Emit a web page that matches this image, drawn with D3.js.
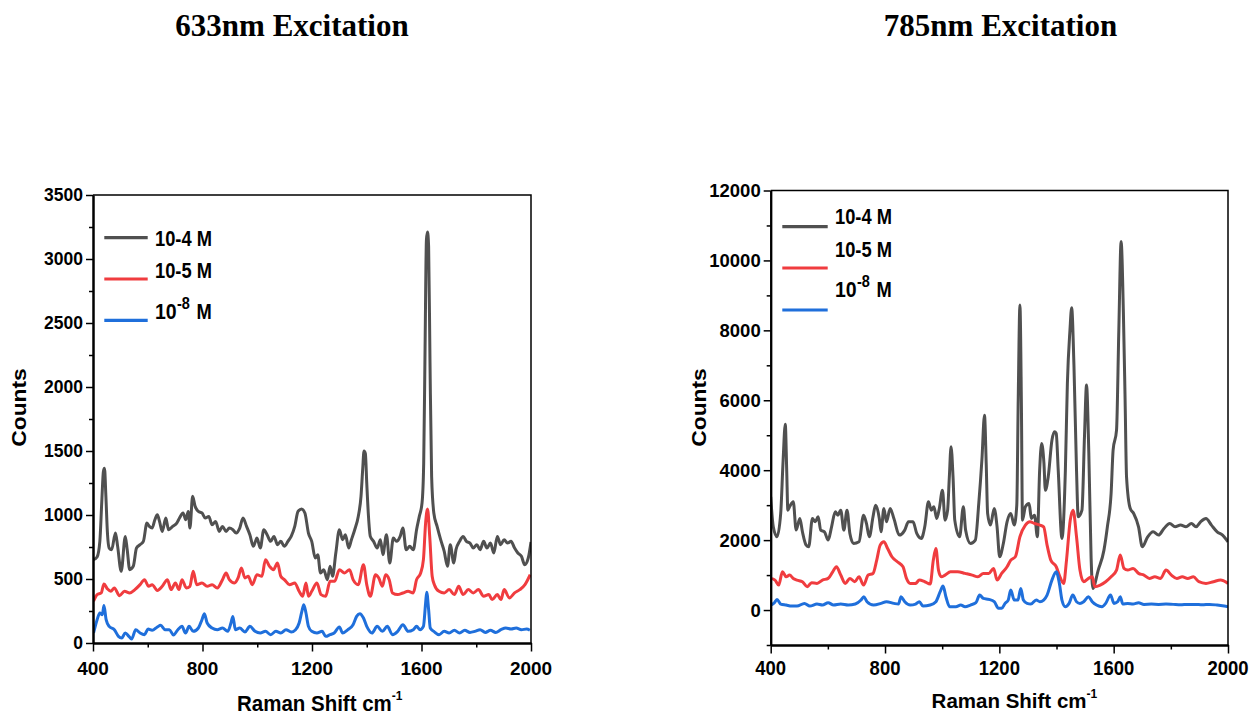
<!DOCTYPE html>
<html>
<head>
<meta charset="utf-8">
<script src="https://cdn.jsdelivr.net/npm/d3@7"></script>
<style>
  body { margin: 0; background: #fff; }
  svg { display: block; }
</style>
</head>
<body>
<svg id="fig" width="1253" height="717"></svg>
<script>
// ---- Raman spectra, 633 nm excitation: [shift (cm-1), counts] ----
const exc633_1e4 = [
  [402,651],[415,672],[425,794],[432,1100],[438,1340],[442,1365],[447,1150],[453,850],[459,742],[468,729],
  [482,859],[490,755],[503,560],[518,833],[525,729],[534,573],[547,599],[559,742],[572,768],[584,794],
  [597,937],[606,911],[616,898],[626,963],[635,1002],[643,950],[653,872],[666,976],[676,885],[691,911],
  [706,937],[716,976],[729,1016],[739,963],[748,1028],[754,898],[764,1146],[773,1068],[785,1028],[798,1016],
  [810,976],[823,989],[835,924],[848,950],[861,872],[873,911],[886,872],[898,898],[911,885],[923,859],
  [936,898],[948,976],[961,911],[973,846],[986,755],[999,820],[1011,742],[1024,885],[1036,846],[1049,794],
  [1061,833],[1074,768],[1086,794],[1099,755],[1112,794],[1124,833],[1137,911],[1149,1028],[1162,1047],[1174,1016],
  [1187,859],[1199,794],[1212,664],[1221,690],[1231,547],[1243,573],[1256,495],[1266,599],[1275,521],[1287,703],
  [1300,885],[1312,807],[1322,846],[1334,742],[1344,807],[1356,885],[1369,989],[1379,1146],[1385,1350],[1390,1500],
  [1395,1480],[1400,1250],[1406,1000],[1413,833],[1425,794],[1438,742],[1450,807],[1459,690],[1472,846],[1484,625],
  [1497,820],[1509,794],[1522,833],[1532,898],[1544,729],[1557,755],[1570,729],[1582,885],[1592,989],[1602,1094],
  [1608,1400],[1613,2300],[1618,3150],[1622,3210],[1626,3100],[1631,2200],[1637,1300],[1645,1016],[1657,911],[1670,807],
  [1683,716],[1695,599],[1705,768],[1718,625],[1726,729],[1739,794],[1752,833],[1764,794],[1777,781],[1789,742],
  [1802,768],[1814,729],[1827,794],[1839,742],[1852,781],[1864,703],[1877,833],[1889,768],[1902,807],[1914,781],
  [1927,794],[1940,742],[1952,703],[1965,677],[1977,612],[1990,664],[2000,790]
];
const exc633_1e5 = [
  [402,326],[415,378],[430,391],[440,461],[453,422],[465,404],[478,430],[497,370],[515,404],[534,391],
  [553,417],[572,456],[588,495],[603,443],[616,456],[635,411],[653,443],[672,495],[685,417],[701,469],
  [714,417],[725,495],[741,430],[754,443],[766,560],[779,456],[798,469],[817,443],[835,456],[854,430],
  [873,495],[886,547],[898,495],[917,469],[930,508],[942,586],[955,508],[967,521],[982,456],[999,534],
  [1017,521],[1030,651],[1045,599],[1059,573],[1074,625],[1086,521],[1099,495],[1118,456],[1137,469],[1153,404],
  [1166,365],[1178,469],[1187,365],[1199,404],[1218,469],[1233,378],[1250,365],[1266,482],[1283,482],[1300,573],
  [1319,547],[1337,573],[1350,495],[1369,456],[1388,612],[1400,456],[1413,365],[1432,534],[1444,508],[1457,443],
  [1469,534],[1482,495],[1494,391],[1513,378],[1532,391],[1551,404],[1570,391],[1582,495],[1597,547],[1607,651],
  [1615,937],[1622,1047],[1630,833],[1639,521],[1647,456],[1664,404],[1683,391],[1701,417],[1720,378],[1736,443],
  [1752,378],[1771,417],[1789,391],[1808,417],[1827,365],[1846,378],[1858,339],[1877,378],[1890,339],[1902,417],
  [1921,352],[1940,391],[1959,417],[1978,456],[1997,534]
];
const exc633_1e8 = [
  [402,78],[415,182],[425,234],[434,221],[440,292],[448,182],[459,130],[478,104],[493,52],[505,39],
  [518,78],[531,52],[541,31],[556,104],[572,78],[588,65],[601,109],[616,99],[635,125],[647,138],
  [664,104],[679,104],[694,62],[710,104],[725,130],[738,78],[751,130],[766,91],[785,117],[798,182],
  [807,229],[817,156],[835,117],[854,104],[873,117],[892,91],[904,156],[911,208],[920,104],[936,117],
  [955,86],[973,130],[992,91],[1011,78],[1030,91],[1049,65],[1068,91],[1086,78],[1105,104],[1124,86],
  [1140,104],[1153,156],[1163,247],[1170,299],[1178,234],[1187,130],[1199,91],[1218,78],[1237,91],[1250,52],
  [1266,65],[1281,78],[1300,125],[1312,78],[1331,104],[1350,143],[1363,208],[1375,229],[1388,195],[1400,130],
  [1419,78],[1438,130],[1457,91],[1475,130],[1494,65],[1513,91],[1532,143],[1551,91],[1570,104],[1582,130],
  [1595,104],[1607,130],[1615,312],[1619,396],[1626,260],[1632,117],[1645,91],[1664,65],[1683,91],[1701,78],
  [1720,99],[1739,78],[1758,99],[1777,83],[1795,91],[1814,104],[1833,83],[1852,99],[1871,83],[1890,104],
  [1908,117],[1927,109],[1946,117],[1965,104],[1984,109],[1996,99]
];

// ---- Raman spectra, 785 nm excitation: [shift (cm-1), counts] ----
const exc785_1e4 = [
  [400,3238],[409,2381],[422,2095],[435,2762],[443,4200],[451,5317],[456,4000],[460,2857],[466,2952],[479,3095],
  [489,2286],[502,2619],[511,2238],[524,1857],[533,1810],[546,2619],[556,2524],[566,2667],[575,2286],[588,2238],
  [601,2000],[613,2381],[626,2810],[635,2714],[645,2857],[656,2286],[667,2857],[677,2190],[690,1905],[709,1952],
  [725,2714],[735,2476],[745,2095],[758,2667],[767,3000],[780,2619],[786,2238],[796,2905],[805,2524],[818,2905],
  [831,2619],[850,2143],[869,2286],[882,2524],[898,2524],[911,2190],[927,2048],[939,2381],[952,3095],[962,2857],
  [971,2952],[981,2619],[990,2905],[1001,3429],[1010,2571],[1019,2857],[1025,3800],[1031,4668],[1038,3800],[1044,2571],
  [1061,2095],[1074,2952],[1082,2286],[1099,1905],[1116,2000],[1128,3048],[1139,4300],[1148,5575],[1154,4200],[1159,2762],
  [1169,2429],[1182,2905],[1192,2381],[1201,1524],[1214,1905],[1227,2524],[1240,2762],[1252,2429],[1261,3000],[1266,6000],
  [1272,8725],[1277,6000],[1281,2571],[1291,2952],[1304,3048],[1312,2619],[1323,2714],[1333,2095],[1341,4000],[1348,4763],
  [1356,4200],[1361,3429],[1371,3810],[1384,4859],[1393,5098],[1399,5050],[1406,4000],[1419,2048],[1431,4000],[1438,6482],
  [1447,8000],[1453,8649],[1461,7000],[1470,4000],[1476,2667],[1489,2857],[1498,5000],[1505,6434],[1513,4500],[1521,1500],
  [1527,619],[1546,1143],[1566,1714],[1578,2381],[1591,3333],[1598,4573],[1610,5145],[1618,8000],[1626,10539],[1634,8500],
  [1640,6000],[1645,3810],[1658,2905],[1670,2762],[1687,2381],[1700,1810],[1719,2095],[1738,2238],[1757,2143],[1776,2333],
  [1796,2476],[1815,2381],[1834,2429],[1853,2381],[1872,2476],[1888,2381],[1904,2524],[1923,2619],[1942,2429],[1962,2238],
  [1981,2143],[2000,1952]
];
const exc785_1e5 = [
  [400,905],[415,857],[428,714],[441,1095],[454,952],[466,1000],[479,905],[492,857],[511,810],[528,667],
  [543,781],[562,762],[581,857],[601,905],[617,1095],[630,1238],[645,1000],[661,762],[677,905],[694,810],
  [709,952],[725,714],[741,1000],[758,1048],[771,1429],[783,1857],[796,1952],[809,1762],[824,1524],[843,1381],
  [863,1238],[875,905],[888,762],[907,762],[920,857],[939,810],[958,743],[969,1429],[978,1762],[987,1143],
  [997,952],[1010,1000],[1029,1095],[1054,1095],[1080,1048],[1105,1000],[1125,952],[1144,1048],[1163,1048],[1180,1190],
  [1192,857],[1208,1048],[1227,1238],[1240,1429],[1256,1524],[1272,2095],[1291,2429],[1307,2524],[1323,2476],[1342,2429],
  [1355,2381],[1367,1857],[1380,1429],[1399,1238],[1412,952],[1425,762],[1435,1429],[1448,2571],[1458,2857],[1470,2095],
  [1482,1143],[1495,810],[1512,905],[1525,952],[1534,667],[1553,714],[1572,810],[1591,952],[1610,1143],[1623,1571],
  [1636,1190],[1649,1143],[1668,1190],[1687,1048],[1706,1000],[1725,905],[1744,952],[1764,905],[1783,1143],[1802,1000],
  [1821,905],[1840,952],[1859,905],[1879,952],[1898,810],[1923,762],[1949,810],[1974,857],[2000,762]
];
const exc785_1e8 = [
  [400,143],[413,210],[422,305],[435,171],[454,143],[473,114],[492,114],[518,190],[537,114],[562,171],
  [581,143],[601,210],[620,143],[645,171],[671,143],[696,171],[716,286],[726,381],[737,238],[760,143],
  [786,190],[805,238],[831,190],[847,171],[856,381],[869,238],[888,143],[907,171],[920,238],[933,114],
  [958,143],[978,238],[993,524],[1003,686],[1013,381],[1026,95],[1048,95],[1065,143],[1080,95],[1099,143],
  [1118,210],[1131,429],[1144,333],[1163,305],[1182,238],[1197,48],[1208,48],[1220,190],[1231,286],[1240,571],
  [1252,286],[1265,286],[1275,619],[1284,286],[1297,190],[1310,171],[1329,286],[1342,238],[1355,286],[1367,429],
  [1384,857],[1399,1095],[1410,762],[1419,286],[1431,95],[1444,190],[1457,429],[1470,238],[1482,190],[1495,238],
  [1512,381],[1525,238],[1540,143],[1559,95],[1572,190],[1589,429],[1601,190],[1614,238],[1623,381],[1632,171],
  [1649,190],[1668,171],[1687,210],[1706,162],[1732,171],[1757,162],[1783,171],[1808,162],[1834,152],[1859,162],
  [1885,162],[1910,152],[1936,162],[1962,143],[1987,114],[2000,95]
];

// ---- axis ticks and labels ----
const shiftTicks = [400, 800, 1200, 1600, 2000];
const shiftMinor = [600, 1000, 1400, 1800];
const counts633Ticks = [0, 500, 1000, 1500, 2000, 2500, 3000, 3500];
const counts633Minor = [250, 750, 1250, 1750, 2250, 2750, 3250];
const counts785Ticks = [0, 2000, 4000, 6000, 8000, 10000, 12000];
const counts785Minor = [-1000, 1000, 3000, 5000, 7000, 9000, 11000];
const panelTitles = ["633nm Excitation", "785nm Excitation"];
const legendParts = [["10-4 M"], ["10-5 M"], ["10", "-8", "M"]];
const seriesColors = ["#505050", "#f03c3f", "#1f6fdb"];

const svg = d3.select("#fig");
const SANS = "'Liberation Sans', Arial, sans-serif";
const SERIF = "'Liberation Serif', 'Times New Roman', serif";

const panels = [
  {
    id: "p633", series: [exc633_1e4, exc633_1e5, exc633_1e8],
    xRange: [93, 531], yRange: [643, 195], yDomain: [0, 3500],
    yTicks: counts633Ticks, yMinor: counts633Minor,
    title: panelTitles[0], titleX: 292,
    yTickFont: 17.5, xTickFont: 19, xTickSy: 0.92,
    countsX: 25.8, countsY: 407.5,
    xTitleX: 237, xTitleY: 711, xTitleSy: 1.12,
    leg: { x1: 104.3, x2: 147.7, lineY: [237.7, 279, 320.3], tx: 155, ty: [245.7, 277.7, 319.3] }
  },
  {
    id: "p785", series: [exc785_1e4, exc785_1e5, exc785_1e8],
    xRange: [770.7, 1228], yRange: [645, 190.5], yDomain: [-1000, 12000],
    yTicks: counts785Ticks, yMinor: counts785Minor,
    title: panelTitles[1], titleX: 1000.5,
    yTickFont: 18.5, xTickFont: 18.5, xTickSy: 1.12,
    countsX: 706.3, countsY: 407.5,
    xTitleX: 931.6, xTitleY: 708.3, xTitleSy: 1.0,
    leg: { x1: 782.3, x2: 827.7, lineY: [226.7, 268, 310], tx: 835, ty: [224.3, 256.7, 297.3] }
  }
];

panels.forEach(p => {
  const x = d3.scaleLinear().domain([400, 2000]).range(p.xRange);
  const y = d3.scaleLinear().domain(p.yDomain).range(p.yRange);
  const g = svg.append("g").attr("id", p.id);
  const [x0, x1] = p.xRange;
  const [yb, yt] = p.yRange;

  // panel heading
  g.append("text")
    .attr("x", p.titleX).attr("y", 36)
    .attr("text-anchor", "middle")
    .style("font-family", SERIF).style("font-weight", "bold").style("font-size", "31px")
    .text(p.title);

  // clip region for the spectra
  g.append("clipPath").attr("id", p.id + "-clip")
    .append("rect").attr("x", x0).attr("y", yt).attr("width", x1 - x0).attr("height", yb - yt);

  // spectra
  const line = d3.line().x(d => x(d[0])).y(d => y(d[1])).curve(d3.curveMonotoneX);
  const lines = g.append("g").attr("clip-path", `url(#${p.id}-clip)`);
  p.series.forEach((s, i) => {
    lines.append("path")
      .datum(s)
      .attr("d", line)
      .attr("fill", "none")
      .attr("stroke", seriesColors[i])
      .attr("stroke-width", 3)
      .attr("stroke-linejoin", "round");
  });

  // frame: top and right edges
  g.append("path")
    .attr("d", `M${x0},${yt}H${x1}V${yb}`)
    .attr("fill", "none").attr("stroke", "#000").attr("stroke-width", 1.5);

  // bottom axis: major and minor ticks
  const xAxisMajor = d3.axisBottom(x).tickValues(shiftTicks).tickSize(8.5).tickFormat("").tickSizeOuter(0);
  const xAxisMinor = d3.axisBottom(x).tickValues(shiftMinor).tickSize(4.5).tickFormat("").tickSizeOuter(0);
  [xAxisMajor, xAxisMinor].forEach(ax => {
    const a = g.append("g").attr("transform", `translate(0,${yb})`).call(ax);
    a.select(".domain").attr("stroke", "#000").attr("stroke-width", 2);
    a.selectAll(".tick line").attr("stroke", "#000").attr("stroke-width", 1.5);
  });

  // left axis: major and minor ticks
  const yAxisMajor = d3.axisLeft(y).tickValues(p.yTicks).tickSize(7).tickFormat("").tickSizeOuter(0);
  const yAxisMinor = d3.axisLeft(y).tickValues(p.yMinor).tickSize(4).tickFormat("").tickSizeOuter(0);
  [yAxisMajor, yAxisMinor].forEach(ax => {
    const a = g.append("g").attr("transform", `translate(${x0},0)`).call(ax);
    a.select(".domain").attr("stroke", "#000").attr("stroke-width", 2);
    a.selectAll(".tick line").attr("stroke", "#000").attr("stroke-width", 1.5);
  });

  // tick labels
  g.append("g").selectAll("text").data(shiftTicks).join("text")
    .attr("transform", d => `translate(${x(d)},675) scale(1,${p.xTickSy})`)
    .attr("text-anchor", "middle")
    .style("font-family", SANS).style("font-weight", "bold").style("font-size", p.xTickFont + "px")
    .text(d => d);
  g.append("g").selectAll("text").data(p.yTicks).join("text")
    .attr("x", x0 - 10).attr("y", d => y(d))
    .attr("dy", "0.35em")
    .attr("text-anchor", "end")
    .style("font-family", SANS).style("font-weight", "bold").style("font-size", p.yTickFont + "px")
    .text(d => d);

  // axis titles
  g.append("text")
    .attr("transform", `translate(${p.countsX},${p.countsY}) rotate(-90) scale(1.17,1)`)
    .attr("text-anchor", "middle")
    .style("font-family", SANS).style("font-weight", "bold").style("font-size", "19.5px")
    .text("Counts");
  const xt = g.append("text")
    .attr("transform", `translate(${p.xTitleX},${p.xTitleY}) scale(1,${p.xTitleSy})`)
    .style("font-family", SANS).style("font-weight", "bold").style("font-size", "20.5px");
  xt.append("tspan").text("Raman Shift cm");
  xt.append("tspan").attr("dy", -10).style("font-size", "12px").text("-1");

  // legend
  const L = p.leg;
  legendParts.forEach((parts, i) => {
    g.append("line")
      .attr("x1", L.x1).attr("x2", L.x2)
      .attr("y1", L.lineY[i]).attr("y2", L.lineY[i])
      .attr("stroke", seriesColors[i]).attr("stroke-width", 3.2);
    const t = g.append("g").attr("transform", `translate(${L.tx},${L.ty[i]}) scale(1,1.17)`)
      .style("font-family", SANS).style("font-weight", "bold");
    if (parts.length === 1) {
      t.append("text").style("font-size", "18.3px").text(parts[0]);
    } else {
      t.append("text").style("font-size", "19.5px").text(parts[0]);
      t.append("text").attr("x", 22).attr("y", -8.5).style("font-size", "14.5px").text(parts[1]);
      t.append("text").attr("x", 41.5).style("font-size", "18.3px").text(parts[2]);
    }
  });
});
</script>
</body>
</html>
